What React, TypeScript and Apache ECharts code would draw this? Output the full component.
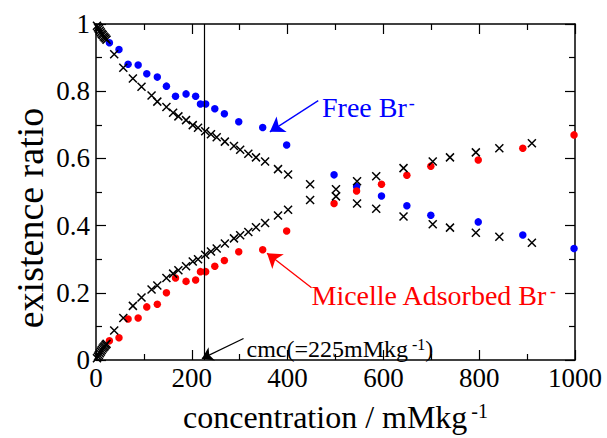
import React, { useEffect, useRef } from "react";
import * as echarts from "echarts";

// concentration (mMkg-1) of the coloured (measured) points
const concentration = [28, 48, 67, 88, 106, 128, 147, 166, 188, 208, 218, 229, 248, 268, 298, 348, 398, 497, 544, 596, 649, 699, 798, 891, 998];
// Free Br- existence ratio (blue)
const freeBr = [0.944, 0.924, 0.88, 0.878, 0.852, 0.842, 0.815, 0.785, 0.792, 0.785, 0.762, 0.762, 0.748, 0.733, 0.709, 0.692, 0.64, 0.551, 0.516, 0.488, 0.459, 0.431, 0.411, 0.372, 0.332];
// Micelle adsorbed Br- existence ratio (red)
const micelleBr = [0.057, 0.066, 0.122, 0.125, 0.158, 0.166, 0.2, 0.244, 0.234, 0.238, 0.263, 0.263, 0.279, 0.296, 0.322, 0.328, 0.384, 0.466, 0.503, 0.523, 0.55, 0.577, 0.595, 0.63, 0.67];

// black crosses (calculated)
const crossConc = [2, 4, 6, 8, 10, 12, 14, 16, 18, 20, 22, 38, 57, 77, 95, 116, 128, 147, 161, 172, 188, 202, 213, 228, 240, 252, 269, 288, 301, 318, 334, 353, 380, 401, 447, 501, 545, 585, 642, 703, 739, 793, 842, 910];
const crossUpper = [0.995, 0.99, 0.985, 0.98, 0.975, 0.97, 0.967, 0.963, 0.96, 0.957, 0.953, 0.91, 0.87, 0.838, 0.813, 0.787, 0.769, 0.753, 0.736, 0.725, 0.714, 0.699, 0.691, 0.681, 0.672, 0.663, 0.65, 0.637, 0.626, 0.614, 0.603, 0.591, 0.568, 0.552, 0.523, 0.508, 0.532, 0.547, 0.571, 0.591, 0.603, 0.618, 0.63, 0.645];
const crossLower = [0.005, 0.01, 0.015, 0.02, 0.025, 0.03, 0.034, 0.038, 0.041, 0.045, 0.048, 0.088, 0.125, 0.161, 0.186, 0.21, 0.222, 0.244, 0.257, 0.267, 0.279, 0.293, 0.3, 0.313, 0.323, 0.332, 0.347, 0.362, 0.371, 0.381, 0.395, 0.408, 0.43, 0.447, 0.476, 0.487, 0.466, 0.45, 0.427, 0.404, 0.394, 0.379, 0.367, 0.349];

const cmc = 225;
// annotation arrows [from, to] in data coordinates
const freeArrow = [[464, 0.772], [363, 0.679]];
const micelleArrow = [[450, 0.215], [357, 0.318]];
const cmcArrow = [[308, 0.064], [221, 0.004]];

const FONT = '"Liberation Serif", "Times New Roman", serif';

export default function App() {
  const ref = useRef<HTMLDivElement>(null);
  useEffect(() => {
    document.body.style.margin = "0";
    const chart = echarts.init(ref.current!, undefined, { renderer: "svg" });
    const axisLine = { show: true, onZero: false, lineStyle: { color: "#000", width: 1.5 } };
    const axisTick = { show: true, inside: true, length: 10, lineStyle: { color: "#000", width: 1.2 } };
    const minorTick = { show: true, splitNumber: 2, length: 6, lineStyle: { color: "#000", width: 1.2 } };
    const xBase = { type: "value", min: 0, max: 1000, interval: 200, axisLine, axisTick, minorTick, splitLine: { show: false }, minorSplitLine: { show: false } };
    const yBase = { type: "value", min: 0, max: 1, interval: 0.2, axisLine, axisTick, minorTick, splitLine: { show: false }, minorSplitLine: { show: false } };

    chart.setOption({
      animation: false,
      grid: { left: 96, right: 32, top: 24, bottom: 73 },
      xAxis: [
        {
          ...xBase,
          position: "bottom",
          axisLabel: { fontSize: 27, fontFamily: FONT, color: "#000", margin: 4, formatter: (v: number) => String(v) },
          name: "{a|concentration / mMkg}{s|-1}",
          nameLocation: "middle",
          nameGap: 41,
          nameTextStyle: {
            rich: {
              a: { fontSize: 32, fontFamily: FONT, color: "#000" },
              s: { fontSize: 20, fontFamily: FONT, color: "#000", verticalAlign: "top", padding: [0, 0, 0, 4] },
            },
          },
        },
        { ...xBase, position: "top", axisLabel: { show: false } },
      ],
      yAxis: [
        {
          ...yBase,
          position: "left",
          axisLabel: { fontSize: 27, fontFamily: FONT, color: "#000", margin: 6 },
        },
        { ...yBase, position: "right", axisLabel: { show: false } },
      ],
      series: [
        {
          type: "scatter",
          name: "Free Br-",
          symbol: "circle",
          symbolSize: 7.5,
          itemStyle: { color: "#0000ff", opacity: 1 },
          data: concentration.map((c, i) => [c, freeBr[i]]),
          markLine: {
            silent: true,
            symbol: ["none", "arrow"],
            symbolSize: 14,
            label: { show: false },
            lineStyle: { color: "#0000ff", width: 1.3, type: "solid", opacity: 1 },
            data: [[{ coord: freeArrow[0] }, { coord: freeArrow[1] }]],
          },
        },
        {
          type: "scatter",
          name: "Micelle Br-",
          symbol: "circle",
          symbolSize: 7.5,
          itemStyle: { color: "#ff0000", opacity: 1 },
          data: concentration.map((c, i) => [c, micelleBr[i]]),
          markLine: {
            silent: true,
            symbol: ["none", "arrow"],
            symbolSize: 14,
            label: { show: false },
            lineStyle: { color: "#ff0000", width: 1.3, type: "solid", opacity: 1 },
            data: [[{ coord: micelleArrow[0] }, { coord: micelleArrow[1] }]],
          },
        },
        {
          type: "scatter",
          name: "calc",
          symbol: "path://M0,0L10,10M10,0L0,10",
          symbolSize: 8,
          itemStyle: { color: "rgba(0,0,0,0)", borderColor: "#000", borderWidth: 1.5, opacity: 1 },
          data: [
            ...crossConc.map((c, i) => [c, crossUpper[i]]),
            ...crossConc.map((c, i) => [c, crossLower[i]]),
          ],
          markLine: {
            silent: true,
            symbol: ["none", "none"],
            label: { show: false },
            lineStyle: { color: "#000", width: 1.2, type: "solid", opacity: 1 },
            data: [{ xAxis: cmc }],
          },
        },
        {
          type: "line",
          name: "cmcArrow",
          data: [],
          markLine: {
            silent: true,
            symbol: ["none", "arrow"],
            symbolSize: 11,
            label: { show: false },
            lineStyle: { color: "#000", width: 1.2, type: "solid", opacity: 1 },
            data: [[{ coord: cmcArrow[0] }, { coord: cmcArrow[1] }]],
          },
        },
      ],
      graphic: [
        {
          type: "text",
          x: 30,
          y: 218,
          rotation: Math.PI / 2,
          style: {
            text: "existence ratio",
            font: `38px ${FONT}`,
            fill: "#000",
            align: "center",
            verticalAlign: "middle",
          },
        },
        {
          type: "text",
          x: 322,
          y: 107.5,
          style: {
            text: "{a|Free Br}{s|-}",
            verticalAlign: "middle",
            rich: {
              a: { fontSize: 28, fontFamily: FONT, fill: "#0000ff" },
              s: { fontSize: 18, fontFamily: FONT, fill: "#0000ff", verticalAlign: "top", padding: [0, 0, 0, 2] },
            },
          },
        },
        {
          type: "text",
          x: 311.5,
          y: 295.5,
          style: {
            text: "{a|Micelle Adsorbed Br}{s|-}",
            verticalAlign: "middle",
            rich: {
              a: { fontSize: 28, fontFamily: FONT, fill: "#ff0000" },
              s: { fontSize: 18, fontFamily: FONT, fill: "#ff0000", verticalAlign: "top", padding: [0, 0, 0, 2] },
            },
          },
        },
        {
          type: "text",
          x: 246.5,
          y: 348.5,
          style: {
            text: "{a|cmc(=225mMkg}{s|-1}{a|)}",
            verticalAlign: "middle",
            rich: {
              a: { fontSize: 24, fontFamily: FONT, fill: "#000" },
              s: { fontSize: 16, fontFamily: FONT, fill: "#000", verticalAlign: "top", padding: [0, 0, 0, 4] },
            },
          },
        },
      ],
    });
    return () => chart.dispose();
  }, []);
  return <div ref={ref} style={{ width: 607, height: 438 }} />;
}
